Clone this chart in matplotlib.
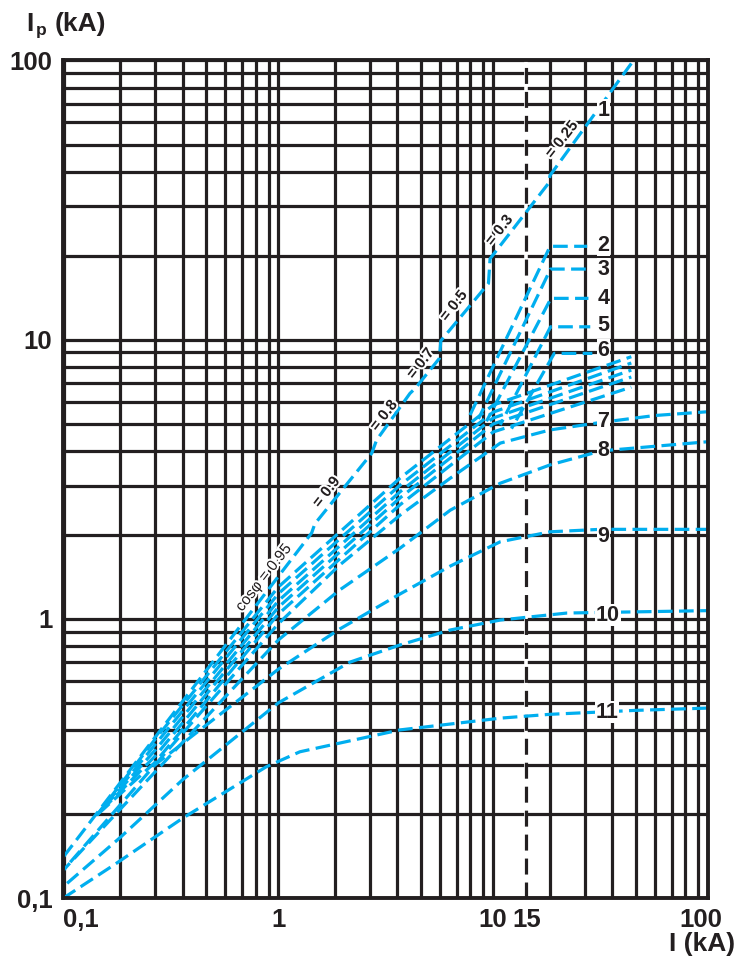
import numpy as np
import matplotlib
matplotlib.use("Agg")
import matplotlib.pyplot as plt
import matplotlib.patheffects as pe
import matplotlib.transforms as mtransforms

plt.rcParams['font.family'] = ['Liberation Sans', 'DejaVu Sans']

# ---------------- data ----------------
x_ticks = [0.1, 1, 10, 15, 100]
x_ticklabels = ['0,1', '1', '10', '15', '100']
y_ticks = [0.1, 1, 10, 100]
y_ticklabels = ['0,1', '1', '10', '100']
marked_current = 15

# curve 1 : cos(phi) envelope
I1 = [0.1, 1.5, 1.56, 3.06, 3.22, 4.51, 4.74, 5.96, 6.04, 9.5, 9.67, 19.6, 20, 48]
Ip1 = [0.1405, 2.03, 2.19, 3.92, 4.37, 6.42, 6.69, 8.57, 9.91, 15.9, 19.5, 36.3, 38.8, 97.6]
cos_labels = ['cosφ = 0.95', '= 0.9', '= 0.8', '= 0.7', '= 0.5', '= 0.3', '= 0.25']
cos_label_I = [0.86, 1.8, 3.48, 5.0, 6.8, 10.8, 23.0]
cos_label_Ip = [1.40, 2.84, 5.34, 8.2, 13.2, 24.6, 52.0]

# curves 2..6
I_b = [0.15, 0.3, 1.0, 4.1, 10.0, 48]
Ip2 = [0.198, 0.37, 1.30, 3.19, 5.83, 8.69]
Ip3 = [0.198, 0.354, 1.23, 3.01, 5.50, 8.25]
Ip4 = [0.198, 0.338, 1.16, 2.85, 5.24, 7.78]
Ip5 = [0.198, 0.322, 1.10, 2.71, 4.99, 7.35]
Ip6 = [0.198, 0.306, 1.04, 2.56, 4.67, 6.76]

# leader lines of curves 2..6 : (I, Ip) triplets
lead2 = ([7.97, 20.0, 30.8], [5.37, 21.6, 21.6])
lead3 = ([8.6, 20.1, 31.4], [5.2, 17.9, 17.9])
lead4 = ([9.3, 20.2, 31.2], [5.1, 14.06, 14.06])
lead5 = ([10.9, 20.1, 31.8], [4.95, 11.12, 11.12])
lead6 = ([12.5, 21.0, 32.5], [4.8, 8.93, 8.93])

# curves 7..11
I7 = [0.3, 1.0, 2.11, 4.1, 6.58, 10.9, 20, 35.3, 60, 100]
Ip7 = [0.30, 0.96, 1.56, 2.35, 3.19, 4.26, 4.75, 5.05, 5.35, 5.52]
I8 = [0.1, 1.0, 2.11, 4.1, 6.58, 10.9, 20, 32.7, 39.1, 100]
Ip8 = [0.126, 0.84, 1.27, 1.79, 2.45, 3.06, 3.56, 3.92, 4.02, 4.31]
I9 = [0.1, 0.3, 1.0, 2.11, 4.1, 6.58, 10.9, 20, 35.3, 100]
Ip9 = [0.126, 0.30, 0.66, 0.92, 1.227, 1.545, 1.888, 2.05, 2.092, 2.092]
I10 = [0.1, 0.2, 0.4, 1.0, 2.38, 4.1, 6.58, 10.9, 24.4, 100]
Ip10 = [0.11, 0.165, 0.265, 0.50, 0.70, 0.806, 0.912, 0.99, 1.049, 1.07]
I11 = [0.1, 0.19, 0.4, 0.88, 1.3, 4.1, 11, 20, 50, 100]
Ip11 = [0.1, 0.133, 0.193, 0.295, 0.334, 0.40, 0.441, 0.455, 0.47, 0.479]

num_labels = ['1', '2', '3', '4', '5', '6', '7', '8', '9', '10', '11']
num_label_I = [36.4, 36.4, 36.4, 36.4, 36.4, 36.4, 36.4, 36.4, 36.4, 38.3, 38.0]
num_label_Ip = [66.4, 21.8, 17.86, 14.06, 11.28, 9.18, 5.08, 4.02, 1.968, 1.032, 0.4636]

# ------------- x scale of the chart paper (non-uniform decade ruling) -------------
MANT = np.array([1, 2, 3, 4, 5, 6, 7, 8, 9, 10], float)
POS = np.array([0, 0.265, 0.426, 0.554, 0.663, 0.753, 0.832, 0.894, 0.955, 1.0])
LM = np.log10(MANT)


def fwd(v):
    v = np.asarray(v, float)
    with np.errstate(divide='ignore', invalid='ignore'):
        lv = np.log10(np.where(v > 0, v, np.nan))
    d = np.floor(lv)
    return d + np.interp(lv - d, LM, POS)


def inv(u):
    u = np.asarray(u, float)
    d = np.floor(u)
    return 10 ** (d + np.interp(u - d, POS, LM))


# ---------------- figure ----------------
W, H = 736, 958
fig = plt.figure(figsize=(W / 100, H / 100), dpi=100)
ax = fig.add_axes([63.5 / W, 1 - 898 / H, (708 - 63.5) / W, (898 - 60.5) / H])
ax.set_xscale('function', functions=(fwd, inv))
ax.set_yscale('log')
ax.set_xlim(0.1, 100)
ax.set_ylim(0.1, 100)

GRID = '#231f20'
grid_vals = [m * 10.0 ** d for d in (-1, 0, 1) for m in range(1, 10)] + [100.0]
for g in grid_vals:
    ax.axvline(g, color=GRID, lw=2.3, zorder=1)
    ax.axhline(g, color=GRID, lw=2.3, zorder=1)

# dashed marker at 15 kA
ax.axvline(marked_current, color='white', lw=2.6, zorder=2)
ax.axvline(marked_current, color=GRID, lw=2.3, zorder=2.1, linestyle=(0, (5, 2.5)))

CY = '#00aeef'
DASH = (4.6, 2.0)


def dashed(xs, ys, offset=0.0):
    ax.plot(xs, ys, color=CY, lw=2.3, linestyle=(offset, DASH), zorder=3,
            dash_capstyle='butt')


dashed(I1, Ip1)
for k, Ip in enumerate((Ip2, Ip3, Ip4, Ip5, Ip6)):
    dashed(I_b, Ip, offset=1.3 * k + 0.7)
for k, (lx, ly) in enumerate((lead2, lead3, lead4, lead5, lead6)):
    dashed(lx, ly, offset=0.9 * k)
for k, (I, Ip) in enumerate(((I7, Ip7), (I8, Ip8), (I9, Ip9), (I10, Ip10), (I11, Ip11))):
    dashed(I, Ip, offset=1.7 * k)

halo = [pe.withStroke(linewidth=3, foreground='white')]
for k, (t, xi, yi) in enumerate(zip(cos_labels, cos_label_I, cos_label_Ip)):
    ax.text(xi, yi, t, rotation=52, ha='center', va='center', fontsize=11,
            fontweight='normal' if k == 0 else 'bold', color='#231f20', zorder=6,
            path_effects=halo, rotation_mode='anchor')

for t, xi, yi in zip(num_labels, num_label_I, num_label_Ip):
    ax.text(xi, yi, t, ha='center', va='center', fontsize=15.5, fontweight='bold',
            color='#231f20', zorder=6,
            bbox=dict(facecolor='white', edgecolor='none', pad=0.5))

for s in ax.spines.values():
    s.set_linewidth(2.8)
    s.set_color(GRID)
    s.set_zorder(4)

ax.set_xticks(x_ticks)
ax.set_xticklabels(x_ticklabels)
ax.set_yticks(y_ticks)
ax.set_yticklabels(y_ticklabels)
ax.minorticks_off()
ax.tick_params(axis='both', length=0, labelsize=18.5, colors='#231f20')
ax.tick_params(axis='x', pad=7)
ax.tick_params(axis='y', pad=8)
for lab in ax.get_xticklabels() + ax.get_yticklabels():
    lab.set_fontweight('bold')
xl = ax.get_xticklabels()
xl[0].set_horizontalalignment('left')
xl[-1].set_transform(xl[-1].get_transform() +
                     mtransforms.ScaledTranslation(-7 / 100, 0, fig.dpi_scale_trans))

fig.text(26 / W, 1 - 24 / H, 'I', fontsize=19, fontweight='bold', va='center', ha='left', color='#231f20')
fig.text(36 / W, 1 - 30 / H, 'p', fontsize=12.5, fontweight='bold', va='center', ha='left', color='#231f20')
fig.text(55 / W, 1 - 24 / H, '(kA)', fontsize=19, fontweight='bold', va='center', ha='left', color='#231f20')
fig.text(735 / W, 1 - 944 / H, 'I (kA)', fontsize=19, fontweight='bold', va='center', ha='right', color='#231f20')

fig.savefig('out.png', dpi=100)
